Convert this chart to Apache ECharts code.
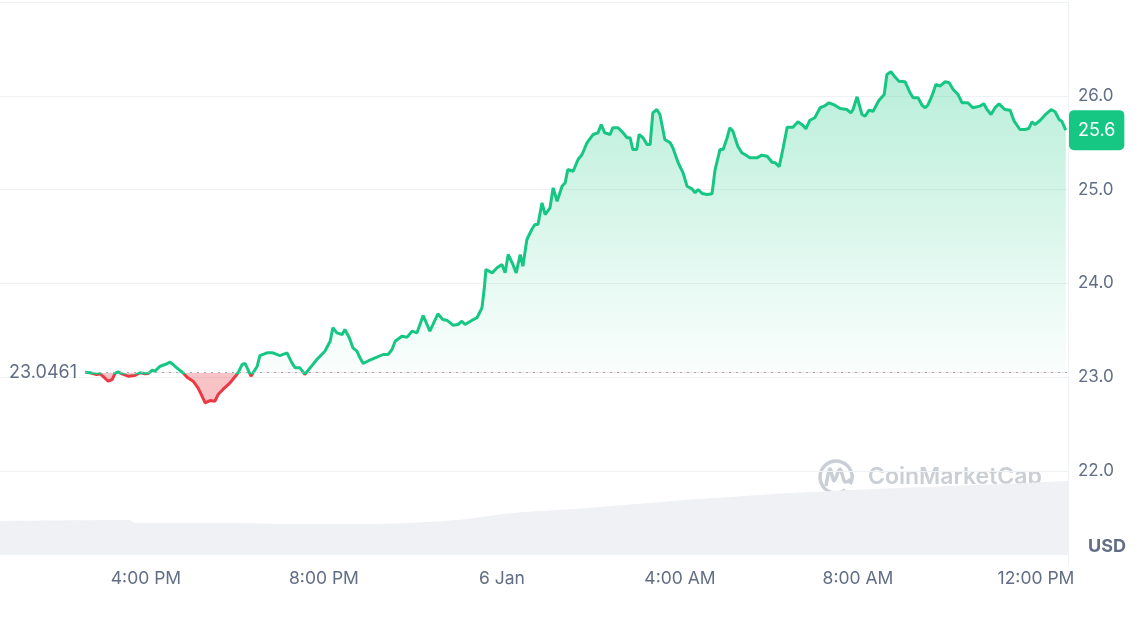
<!DOCTYPE html>
<html>
<head>
<meta charset="utf-8">
<script src="https://cdn.jsdelivr.net/npm/echarts@6/dist/echarts.min.js"></script>
<style>
html,body{margin:0;padding:0;background:#fff;}
#chart{width:1140px;height:629px;}
</style>
</head>
<body>
<div id="chart"></div>
<script>
// hours since 5 Jan 00:00
const hours = [
14.63,14.74,14.89,14.97,15.03,15.15,15.24,15.30,15.37,15.46,
15.60,15.75,15.87,15.98,16.05,16.14,16.20,16.32,16.43,16.54,
16.61,16.72,16.83,16.94,17.06,17.17,17.26,17.33,17.44,17.55,
17.62,17.73,17.89,18.00,18.07,18.16,18.23,18.29,18.36,18.41,
18.50,18.56,18.72,18.85,19.01,19.17,19.28,19.35,19.46,19.57,
19.69,19.84,20.02,20.14,20.20,20.29,20.41,20.47,20.57,20.65,
20.74,20.81,20.88,21.03,21.19,21.33,21.44,21.53,21.60,21.75,
21.87,21.98,22.09,22.23,22.38,22.56,22.67,22.76,22.90,23.01,
23.10,23.17,23.33,23.44,23.55,23.60,23.64,23.78,23.89,24.00,
24.07,24.14,24.23,24.32,24.41,24.47,24.56,24.67,24.74,24.81,
24.90,24.97,25.08,25.15,25.24,25.35,25.42,25.48,25.60,25.71,
25.80,25.91,26.05,26.16,26.23,26.31,26.43,26.49,26.61,26.72,
26.81,26.88,26.94,27.03,27.08,27.17,27.26,27.33,27.39,27.48,
27.55,27.66,27.78,27.84,27.96,28.07,28.16,28.27,28.34,28.41,
28.50,28.61,28.72,28.79,28.90,28.97,29.06,29.12,29.19,29.30,
29.39,29.46,29.57,29.73,29.84,29.96,30.07,30.14,30.23,30.32,
30.41,30.54,30.65,30.76,30.83,30.92,31.03,31.15,31.24,31.35,
31.48,31.60,31.75,31.84,31.89,31.98,32.09,32.16,32.25,32.34,
32.47,32.59,32.65,32.74,32.83,32.92,33.06,33.17,33.24,33.35,
33.44,33.51,33.57,33.66,33.75,33.84,33.96,34.05,34.14,34.25,
34.34,34.47,34.58,34.74,34.83,34.90,34.99,35.08,35.17,35.30,
35.42,35.51,35.64,35.75,35.84,35.91,35.98,36.09,36.20,36.34,
36.43,36.52,36.58,36.67
];
const prices = [
23.051,23.045,23.027,23.034,23.009,22.955,22.973,23.034,23.055,23.034,
23.009,23.016,23.045,23.034,23.037,23.073,23.062,23.115,23.133,23.158,
23.133,23.087,23.045,22.991,22.955,22.885,22.795,22.725,22.749,22.742,
22.813,22.867,22.938,23.002,23.045,23.133,23.144,23.080,23.009,23.045,
23.115,23.229,23.258,23.258,23.229,23.258,23.151,23.098,23.098,23.027,
23.098,23.187,23.275,23.382,23.525,23.471,23.453,23.507,23.418,23.311,
23.275,23.205,23.144,23.179,23.211,23.240,23.240,23.293,23.382,23.435,
23.425,23.489,23.471,23.656,23.489,23.674,23.613,23.606,23.553,23.560,
23.595,23.560,23.606,23.632,23.738,23.933,24.147,24.111,24.165,24.200,
24.111,24.307,24.218,24.111,24.307,24.182,24.467,24.573,24.627,24.627,
24.858,24.733,24.805,25.018,24.875,25.035,25.071,25.213,25.195,25.320,
25.373,25.498,25.587,25.605,25.693,25.605,25.587,25.658,25.658,25.605,
25.552,25.552,25.427,25.427,25.587,25.552,25.480,25.480,25.818,25.853,
25.800,25.533,25.498,25.445,25.285,25.178,25.035,25.007,24.965,25.000,
24.957,24.947,24.954,25.213,25.427,25.427,25.552,25.658,25.622,25.462,
25.392,25.373,25.338,25.338,25.366,25.355,25.291,25.285,25.242,25.445,
25.665,25.665,25.722,25.686,25.647,25.739,25.765,25.872,25.889,25.925,
25.899,25.864,25.853,25.818,25.853,25.989,25.800,25.782,25.846,25.835,
25.949,26.013,26.227,26.256,26.202,26.155,26.149,26.032,25.978,25.978,
25.899,25.872,25.899,25.995,26.120,26.102,26.149,26.138,26.067,26.013,
25.925,25.925,25.872,25.889,25.914,25.853,25.800,25.872,25.914,25.853,
25.846,25.729,25.640,25.640,25.651,25.722,25.693,25.736,25.793,25.853,
25.829,25.747,25.729,25.633
];
const openPrice = 23.0461;
const volHours  = [12.72,15.64,15.75,17.96,19.17,21.10,22.32,23.21,24.25,25.30,26.20,28.45,30.54,32.94,35.19,36.72];
const volValues = [3.07,3.16,2.89,2.89,2.80,2.80,2.98,3.26,3.80,4.07,4.34,5.06,5.61,6.06,6.42,6.69];
const xTickValues = [16,20,24,28,32,36];
const xTickLabels = ['4:00 PM','8:00 PM','6 Jan','4:00 AM','8:00 AM','12:00 PM'];
const yTickValues = [22,23,24,25,26];

const X_MIN = 12.72, X_MAX = 36.72;
const GREEN = '#16c784', RED = '#ea3943', GREY = '#616e85', GRID = '#eff2f5';

const priceData = hours.map((h, i) => [h, prices[i]]);
const volData = volHours.map((h, i) => [h, volValues[i]]);
const pMax = Math.max(...prices), pMin = Math.min(...prices, openPrice);
const stop = (pMax - openPrice) / (pMax - pMin);
const lastPrice = prices[prices.length - 1];
const lastHour = hours[hours.length - 1];

function splitGradient(top, bottom) {
  return new echarts.graphic.LinearGradient(0, 0, 0, 1, [
    { offset: 0, color: top[0] },
    { offset: Math.max(0, stop - 0.002), color: top[1] },
    { offset: stop, color: bottom },
    { offset: 1, color: bottom }
  ]);
}

const chart = echarts.init(document.getElementById('chart'));
chart.setOption({
  animation: false,
  textStyle: { fontFamily: 'Inter, "Noto Sans", sans-serif' },
  grid: [
    { left: 0, right: 72, top: 2, bottom: 64.5 },
    { left: 0, right: 72, top: 2, bottom: 74 }
  ],
  xAxis: [
    {
      type: 'value', gridIndex: 0, min: X_MIN, max: X_MAX,
      axisLine: { show: false }, axisTick: { show: false }, splitLine: { show: false },
      axisLabel: {
        customValues: xTickValues, margin: 5, color: GREY, fontSize: 17.5,
        formatter: v => { const i = xTickValues.indexOf(Math.round(v)); return i >= 0 ? xTickLabels[i] : ''; }
      }
    },
    { type: 'value', gridIndex: 1, min: X_MIN, max: X_MAX, show: false }
  ],
  yAxis: [
    {
      type: 'value', gridIndex: 0, position: 'right', min: 21, max: 27, interval: 1,
      axisLine: { show: true, lineStyle: { color: GRID, width: 1 } },
      axisTick: { show: false },
      splitLine: { show: true, lineStyle: { color: ['rgba(0,0,0,0)', GRID, GRID, GRID, GRID, GRID, GRID], width: 1 } },
      axisLabel: {
        margin: 10, color: GREY, fontSize: 17,
        formatter: v => yTickValues.indexOf(Math.round(v)) >= 0 ? v.toFixed(1) : ''
      }
    },
    { type: 'value', gridIndex: 1, min: 0, max: 50, show: false }
  ],
  series: [
    {
      type: 'line', xAxisIndex: 1, yAxisIndex: 1, data: volData,
      symbol: 'none', lineStyle: { width: 0 }, smooth: 0.3,
      areaStyle: { color: '#eff1f5', opacity: 1 }, z: 1, silent: true
    },
    {
      type: 'line', xAxisIndex: 0, yAxisIndex: 0, data: priceData,
      symbol: 'none', z: 3,
      lineStyle: { width: 3, color: splitGradient([GREEN, GREEN], RED) },
      areaStyle: {
        origin: openPrice, opacity: 1,
        color: splitGradient(['rgba(22,199,132,0.3)', 'rgba(22,199,132,0.02)'], 'rgba(234,57,67,0.30)')
      },
      markLine: {
        silent: true, symbol: 'none', animation: false,
        data: [
          [
            { coord: [hours[0], openPrice], lineStyle: { color: '#a1a7bb', type: [2, 5], width: 1.2 },
              label: { show: true, position: 'start', distance: 8, formatter: String(openPrice), color: GREY, fontSize: 18 } },
            { coord: [X_MAX, openPrice] }
          ],
          [
            { coord: [lastHour, lastPrice], lineStyle: { color: 'rgba(0,0,0,0)', width: 1 },
              label: {
                show: true, position: 'end', distance: 1, formatter: lastPrice.toFixed(1),
                color: '#ffffff', fontSize: 18, backgroundColor: GREEN, borderRadius: 5, padding: [11, 9, 11, 9]
              } },
            { coord: [X_MAX, lastPrice] }
          ]
        ]
      }
    }
  ],
  graphic: [
    { type: 'text', left: 1088, top: 538, style: { text: 'USD', fill: GREY, font: 'bold 18px Inter, sans-serif' } },
    { type: 'arc', shape: { cx: 836, cy: 477, r: 16, startAngle: Math.PI * 0.3, endAngle: Math.PI * 2.15 },
      style: { stroke: '#caced5', lineWidth: 3.5, fill: 'none' }, z: 0 },
    { type: 'polyline', shape: { points: [[826, 486], [830, 469], [834, 481], [840, 469], [845, 482], [851, 479]], smooth: 0.3 },
      style: { stroke: '#caced5', lineWidth: 3.5, fill: 'none' }, z: 0 },
    { type: 'text', left: 868, top: 466, style: { text: 'CoinMarketCap', fill: '#caced5', font: '600 23px Inter, sans-serif' }, z: 0 }
  ]
});
</script>
</body>
</html>
